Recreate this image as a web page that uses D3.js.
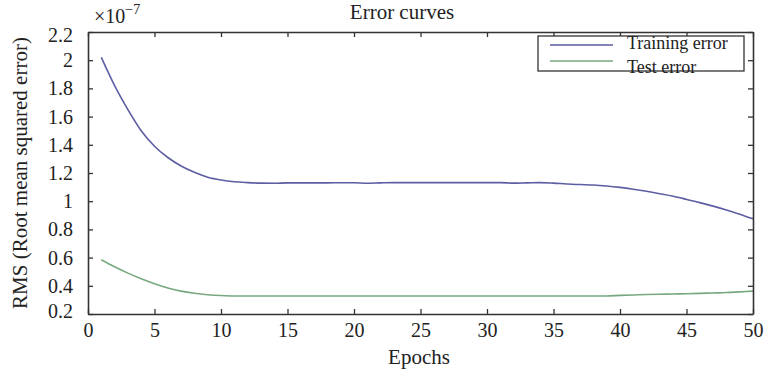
<!DOCTYPE html>
<html>
<head>
<meta charset="utf-8">
<script src="https://cdn.jsdelivr.net/npm/d3@7"></script>
<style>
  html, body { margin: 0; padding: 0; background: #fff; }
  svg { display: block; font-family: "Liberation Serif", "DejaVu Serif", serif; }
</style>
</head>
<body>
<svg id="chart" width="766" height="373"></svg>
<script>
const epochs = [1,2,3,4,5,6,7,8,9,10,11,12,13,14,15,16,17,18,19,20,21,22,23,24,25,
                26,27,28,29,30,31,32,33,34,35,36,37,38,39,40,41,42,43,44,45,46,47,48,49,50];
const trainingError = [2.02,1.82,1.65,1.50,1.39,1.31,1.25,1.205,1.17,1.15,
                       1.138,1.132,1.128,1.127,1.13,1.13,1.13,1.13,1.131,1.131,
                       1.127,1.13,1.132,1.132,1.132,1.132,1.132,1.132,1.132,1.132,
                       1.132,1.128,1.13,1.132,1.128,1.122,1.118,1.115,1.108,1.098,
                       1.085,1.07,1.053,1.035,1.013,0.99,0.965,0.938,0.908,0.875];
const testError = [0.585,0.535,0.49,0.45,0.415,0.385,0.362,0.347,0.337,0.331,
                   0.328,0.328,0.328,0.328,0.328,0.328,0.328,0.328,0.328,0.328,
                   0.328,0.328,0.328,0.328,0.328,0.328,0.328,0.328,0.328,0.328,
                   0.328,0.328,0.328,0.328,0.328,0.328,0.328,0.328,0.328,0.332,
                   0.335,0.338,0.34,0.342,0.344,0.346,0.349,0.352,0.357,0.362];
const xTicks = [0,5,10,15,20,25,30,35,40,45,50];
const yTicks = [0.2,0.4,0.6,0.8,1,1.2,1.4,1.6,1.8,2,2.2];
const seriesNames = ["Training error", "Test error"];
const seriesColors = ["#5d5da3", "#76a97f"];

const svg = d3.select("#chart");
const L = 88, R = 753, T = 32, B = 314;
const x = d3.scaleLinear().domain([0, 50]).range([L, R]);
const y = d3.scaleLinear().domain([0.2, 2.2]).range([B, T]);
const axisColor = "#333";

// lines
const line = d3.line().curve(d3.curveMonotoneX).x((d, i) => x(epochs[i])).y(d => y(d));
[trainingError, testError].forEach((vals, k) => {
  svg.append("path").datum(vals)
    .attr("fill", "none").attr("stroke", seriesColors[k])
    .attr("stroke-width", 1.6).attr("stroke-linejoin", "round")
    .attr("d", line);
});

function styleAxis(g) {
  g.select(".domain").attr("stroke", axisColor).attr("stroke-width", 1.6);
  g.selectAll(".tick line").attr("stroke", axisColor).attr("stroke-width", 1.3);
  g.selectAll("text").attr("fill", "#222").style("font-size", "20px")
    .style("font-family", '"Liberation Serif", serif');
}

// bottom
svg.append("g").attr("transform", `translate(0,${B})`)
  .call(d3.axisBottom(x).tickValues(xTicks).tickSize(-5).tickSizeOuter(0).tickPadding(9).tickFormat(d => String(d)))
  .call(styleAxis);
// top
svg.append("g").attr("transform", `translate(0,${T})`)
  .call(d3.axisTop(x).tickValues(xTicks).tickSize(-5).tickSizeOuter(0).tickFormat(""))
  .call(styleAxis);
// left
const gl = svg.append("g").attr("transform", `translate(${L},0)`)
  .call(d3.axisLeft(y).tickValues(yTicks).tickSize(-5).tickSizeOuter(0).tickPadding(15).tickFormat(d => String(d)))
  .call(styleAxis);
gl.selectAll(".tick text").attr("dy", (d) => d === 0.2 ? "0.15em" : d === 2.2 ? "0.47em" : "0.32em");
// right
svg.append("g").attr("transform", `translate(${R},0)`)
  .call(d3.axisRight(y).tickValues(yTicks).tickSize(-5).tickSizeOuter(0).tickFormat(""))
  .call(styleAxis);

// title
svg.append("text").attr("x", 402).attr("y", 19).attr("text-anchor", "middle")
  .style("font-size", "21px").attr("fill", "#222").text("Error curves");

// exponent
const ex = svg.append("text").attr("x", 94).attr("y", 23).attr("fill", "#222").style("font-size", "20px");
ex.append("tspan").text("\u00d710");
ex.append("tspan").attr("dy", -9).style("font-size", "14px").text("\u22127");

// x label
svg.append("text").attr("x", 419).attr("y", 364).attr("text-anchor", "middle")
  .style("font-size", "21px").attr("fill", "#222").text("Epochs");

// y label
svg.append("text").attr("transform", `translate(27,${(T + B) / 2}) rotate(-90)`)
  .attr("text-anchor", "middle").style("font-size", "21px").attr("fill", "#222")
  .text("RMS (Root mean squared error)");

// legend
const lg = svg.append("g");
lg.append("rect").attr("x", 538).attr("y", 36).attr("width", 206).attr("height", 35)
  .attr("fill", "#fff").attr("stroke", axisColor).attr("stroke-width", 1.3);
const lgY = [45, 61];
const lgTextY = [49, 73];
seriesNames.forEach((name, k) => {
  lg.append("line").attr("x1", 550).attr("x2", 613).attr("y1", lgY[k]).attr("y2", lgY[k])
    .attr("stroke", seriesColors[k]).attr("stroke-width", 1.6);
  lg.append("text").attr("x", 627).attr("y", lgTextY[k]).style("font-size", "18px")
    .attr("fill", "#222").text(name);
});
</script>
</body>
</html>
